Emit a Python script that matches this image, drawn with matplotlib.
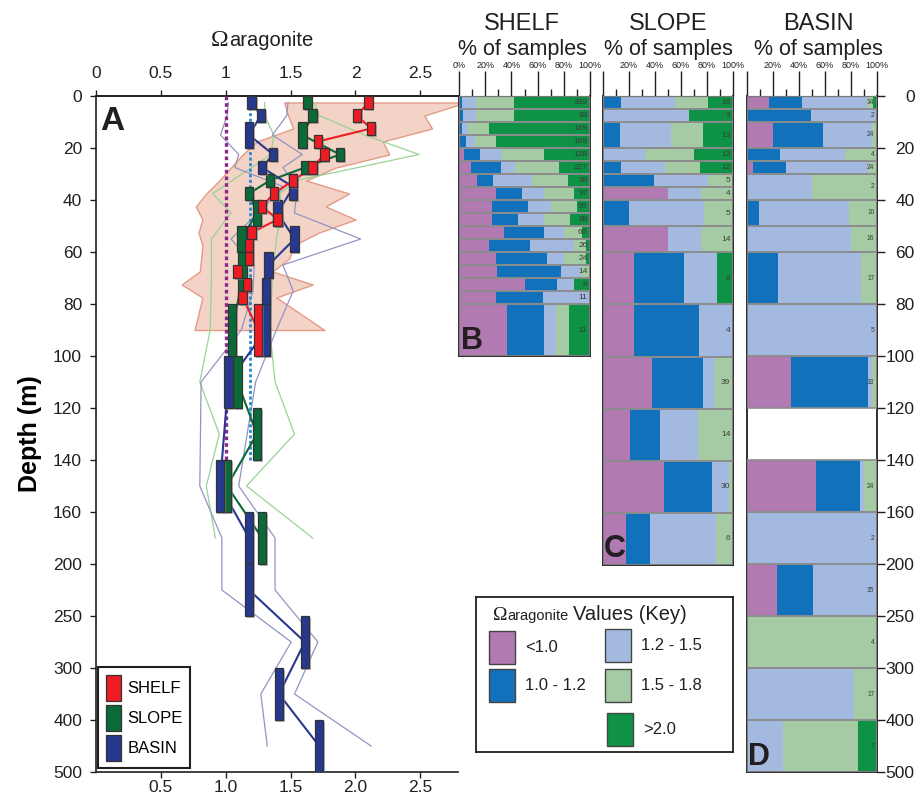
import numpy as np
import matplotlib
matplotlib.use("Agg")
import matplotlib.pyplot as plt
import matplotlib.patheffects as pe
from matplotlib.patches import Patch, Rectangle

plt.rcParams["font.family"] = ["Liberation Sans", "DejaVu Sans"]

W, H = 915, 797

# ---------------------------------------------------------------------------
# Data
# ---------------------------------------------------------------------------
DEPTH_TICKS = [0, 20, 40, 60, 80, 100, 120, 140, 160, 200, 250, 300, 400, 500]

# Panel A: mean Omega per depth bin, with the spread envelopes
SHELF_TOP = [0, 5, 10, 15, 20, 25, 30, 35, 40, 45, 50, 55, 60, 65, 70, 75, 80]
SHELF_BOT = [5, 10, 15, 20, 25, 30, 35, 40, 45, 50, 55, 60, 65, 70, 75, 80, 100]
SHELF_OMEGA = [2.10, 2.01, 2.12, 1.71, 1.76, 1.67, 1.52, 1.37, 1.28, 1.40,
               1.20, 1.18, 1.18, 1.09, 1.165, 1.13, 1.25]
SHELF_MIN = [1.45, 1.48, 1.52, 1.24, 1.13, 1.04, 0.95, 0.85, 0.77, 0.82,
             0.79, 0.82, 0.81, 0.80, 0.66, 0.82, 0.76]
SHELF_MAX = [2.85, 2.53, 2.59, 2.21, 2.26, 1.85, 1.62, 1.95, 1.77, 2.00,
             1.72, 1.52, 1.49, 1.36, 1.67, 1.39, 1.76]

SLOPE_TOP = [0, 5, 10, 20, 25, 30, 35, 40, 50, 60, 80, 100, 120, 140, 160]
SLOPE_BOT = [5, 10, 20, 25, 30, 35, 40, 50, 60, 80, 100, 120, 140, 160, 200]
SLOPE_OMEGA = [1.63, 1.67, 1.59, 1.88, 1.61, 1.34, 1.18, 1.24, 1.12, 1.13,
               1.05, 1.09, 1.24, 1.01, 1.28]
SLOPE_MIN = [1.30, 1.30, 1.37, 1.35, 1.20, 1.05, 0.90, 1.04, 0.89, 0.89,
             0.88, 0.80, 0.95, 0.85, 0.92]
SLOPE_MAX = [1.68, 1.72, 2.07, 2.49, 2.02, 1.54, 1.42, 1.43, 1.39, 1.36,
             1.34, 1.38, 1.53, 1.16, 1.67]

BASIN_TOP = [0, 5, 10, 20, 25, 30, 40, 50, 60, 70, 80, 100, 140, 160, 200, 250, 300, 400]
BASIN_BOT = [5, 10, 20, 25, 30, 40, 50, 60, 70, 80, 100, 120, 160, 200, 250, 300, 400, 500]
BASIN_OMEGA = [1.20, 1.27, 1.18, 1.365, 1.28, 1.52, 1.40, 1.53, 1.33, 1.31,
               1.31, 1.02, 0.955, 1.18, 1.18, 1.61, 1.41, 1.72]
BASIN_MIN = [1.02, 1.01, 0.96, 1.10, 1.07, 1.45, 1.25, 1.04, 1.22, 1.21,
             1.12, 0.81, 0.80, 0.97, 0.97, 1.505, 1.27, 1.32]
BASIN_MAX = [1.48, 1.47, 1.36, 1.59, 1.44, 1.55, 1.53, 2.04, 1.44, 1.52,
             1.39, 1.23, 1.10, 1.38, 1.38, 1.71, 1.53, 2.12]

OMEGA_SAT = 1.0
OMEGA_REF = 1.19
REF_DEPTH = [0, 140]

# Panels B-D: % of samples in each Omega class
CAT_LABELS = ["<1.0", "1.0 - 1.2", "1.2 - 1.5", "1.5 - 1.8", ">2.0"]
CAT_COLORS = ["#b17ab3", "#1172bb", "#a4b9e0", "#a5cba4", "#0e9346"]

SHELF_N = [339, 93, 169, 169, 128, 227, 98, 97, 95, 88, 60, 26, 24, 14, 8, 11, 11]
SHELF_LT10 = [0, 0, 0, 0, 4, 9, 14, 28, 25, 25, 34, 23, 28, 29, 50, 28, 37]
SHELF_10_12 = [2, 3, 2, 5, 12, 23, 12, 20, 28, 20, 31, 31, 39, 49, 25, 36, 28]
SHELF_12_15 = [11, 10, 5, 7, 17, 11, 30, 17, 17, 20, 15, 34, 13, 14, 13, 36, 9]
SHELF_15_18 = [29, 29, 16, 16, 32, 33, 27, 23, 20, 20, 14, 9, 17, 8, 0, 0, 10]
SHELF_GT20 = [58, 58, 77, 72, 35, 24, 17, 12, 10, 15, 6, 3, 3, 0, 12, 0, 16]

SLOPE_N = [16, 3, 13, 13, 12, 5, 4, 5, 14, 8, 4, 39, 14, 30, 6]
SLOPE_LT10 = [0, 0, 0, 0, 0, 0, 50, 0, 50, 24, 24, 38, 21, 47, 17.4]
SLOPE_10_12 = [13.6, 0, 13, 0, 13.6, 39, 0, 20, 0, 38.5, 50, 39, 23, 37, 18.5]
SLOPE_12_15 = [42, 66, 39, 32, 34, 41.5, 25, 58, 25, 25.5, 26, 9, 29, 13, 51]
SLOPE_15_18 = [25, 0, 25, 38, 27, 19.5, 25, 22, 25, 0, 0, 14, 27, 3, 13.1]
SLOPE_GT20 = [19.4, 34, 23, 30, 25.4, 0, 0, 0, 0, 12, 0, 0, 0, 0, 0]

BASIN_D_TOP = [0, 5, 10, 20, 25, 30, 40, 50, 60, 80, 100, 140, 160, 200, 250, 300, 400]
BASIN_D_BOT = [5, 10, 20, 25, 30, 40, 50, 60, 80, 100, 120, 160, 200, 250, 300, 400, 500]
BASIN_N = [34, 2, 24, 4, 24, 2, 10, 16, 17, 5, 33, 24, 2, 35, 4, 17, 7]
BASIN_LT10 = [16.8, 0, 20, 0, 4.4, 0, 0, 0, 0, 0, 33.8, 53, 0, 23, 0, 0, 0]
BASIN_10_12 = [25.5, 49, 38.5, 25, 25.6, 0, 9, 0, 23.7, 0, 59.5, 34, 0, 28, 0, 0, 0]
BASIN_12_15 = [50, 51, 37.5, 50.5, 63, 50, 69.6, 80, 64.3, 100, 3, 3, 100, 49, 0, 82, 27.6]
BASIN_15_18 = [4.7, 0, 4, 24.5, 7, 50, 21.4, 20, 12, 0, 3.7, 10, 0, 0, 100, 18, 58]
BASIN_GT20 = [3, 0, 0, 0, 0, 0, 0, 0, 0, 0, 0, 0, 0, 0, 0, 0, 14.4]

# ---------------------------------------------------------------------------
# Style
# ---------------------------------------------------------------------------
INK = "#231f20"
SHELF_C = "#ed1c24"
SLOPE_C = "#0b6a37"
BASIN_C = "#27388f"
SHADE_FACE = "#f3d3c6"
SHADE_EDGE = "#e49a85"
SLOPE_LIGHT = "#98d493"
BASIN_LIGHT = "#9294c2"
ROW_EDGE = "#8c8c8c"
BOX_W = 0.065


def px(x0, y0, x1, y1):
    """Figure-pixel box -> axes rect."""
    return [x0 / W, 1 - y1 / H, (x1 - x0) / W, (y1 - y0) / H]


_IDX = np.arange(len(DEPTH_TICKS), dtype=float)


def depth_fwd(d):
    d = np.asarray(d, dtype=float)
    out = np.interp(d, DEPTH_TICKS, _IDX)
    out = np.where(d > 500, _IDX[-1] + (d - 500) / 100.0, out)
    return np.where(d < 0, d / 20.0, out)


def depth_inv(p):
    p = np.asarray(p, dtype=float)
    out = np.interp(p, _IDX, DEPTH_TICKS)
    out = np.where(p > _IDX[-1], 500 + (p - _IDX[-1]) * 100.0, out)
    return np.where(p < 0, p * 20.0, out)


def depth_axis(ax, bottom):
    ax.set_yscale("function", functions=(depth_fwd, depth_inv))
    ax.set_ylim(bottom, 0)


fig = plt.figure(figsize=(W / 100, H / 100), dpi=100)

# ---------------------------------------------------------------------------
# Panel A
# ---------------------------------------------------------------------------
ax = fig.add_axes(px(96, 96, 458, 772))
depth_axis(ax, 500)
ax.set_xlim(0, 2.79)

mid = lambda t, b: (np.array(t) + np.array(b)) / 2.0
shelf_mid = mid(SHELF_TOP, SHELF_BOT)
slope_mid = mid(SLOPE_TOP, SLOPE_BOT)
basin_mid = mid(BASIN_TOP, BASIN_BOT)

ax.fill_betweenx(shelf_mid, SHELF_MIN, SHELF_MAX, facecolor=SHADE_FACE,
                 edgecolor=SHADE_EDGE, linewidth=1.0, zorder=1)
for arr in (SLOPE_MIN, SLOPE_MAX):
    ax.plot(arr, slope_mid, color=SLOPE_LIGHT, lw=0.9, zorder=2)
for arr in (BASIN_MIN, BASIN_MAX):
    ax.plot(arr, basin_mid, color=BASIN_LIGHT, lw=0.9, zorder=2)

ax.plot([OMEGA_SAT] * 2, REF_DEPTH, color="#8b2a8b", lw=2.4,
        ls=(0, (1.1, 0.9)), zorder=3)
ax.plot([OMEGA_REF] * 2, REF_DEPTH, color="#2a8ad6", lw=2.0,
        ls=(0, (1.1, 0.9)), zorder=3)

shadow = [pe.SimplePatchShadow(offset=(1.2, -1.2), shadow_rgbFace="#888888", alpha=0.6),
          pe.Normal()]
series = [
    (SLOPE_OMEGA, SLOPE_TOP, SLOPE_BOT, slope_mid, SLOPE_C, 5),
    (BASIN_OMEGA, BASIN_TOP, BASIN_BOT, basin_mid, BASIN_C, 6),
    (SHELF_OMEGA, SHELF_TOP, SHELF_BOT, shelf_mid, SHELF_C, 7),
]
for om, top, bot, m, col, z in series:
    ax.plot(om, m, color=col, lw=1.5, zorder=4)
    bars = ax.bar(om, np.array(bot) - np.array(top), bottom=top, width=BOX_W,
                  color=col, edgecolor="#333333", linewidth=0.9, zorder=z)
    for b in bars:
        b.set_path_effects(shadow)

ax.spines["right"].set_visible(False)
for side in ("left", "top", "bottom"):
    ax.spines[side].set_color(INK)
    ax.spines[side].set_linewidth(1.2)

ax.set_yticks(DEPTH_TICKS)
ax.set_yticklabels([str(d) for d in DEPTH_TICKS])
ax.yaxis.set_minor_locator(matplotlib.ticker.NullLocator())
ax.tick_params(axis="y", direction="out", length=4, width=1, colors=INK,
               labelsize=12.5, pad=6)
ax.set_xticks([0.5, 1.0, 1.5, 2.0, 2.5])
ax.set_xticklabels(["0.5", "1.0", "1.5", "2.0", "2.5"])
ax.tick_params(axis="x", direction="out", length=4, width=1, colors=INK,
               labelsize=12.5, pad=2)

sec = ax.secondary_xaxis("top")
sec.set_xticks([0, 0.5, 1.0, 1.5, 2.0, 2.5])
sec.set_xticklabels(["0", "0.5", "1", "1.5", "2", "2.5"])
sec.tick_params(direction="out", length=4, width=1, colors=INK, labelsize=12.5, pad=7)
sec.spines["top"].set_color(INK)
sec.spines["top"].set_linewidth(1.2)

ax.set_ylabel("Depth (m)", fontsize=18, fontweight="bold", labelpad=8)

handles = [Patch(facecolor=c, edgecolor="#333333", linewidth=0.9)
           for c in (SHELF_C, SLOPE_C, BASIN_C)]
leg = ax.legend(handles, ["SHELF", "SLOPE", "BASIN"], loc="lower left",
                bbox_to_anchor=(98 / W, 1 - 768 / H), bbox_transform=fig.transFigure,
                fontsize=12, handlelength=0.9, handleheight=2.0, labelspacing=0.25,
                borderpad=0.45, handletextpad=0.4, fancybox=False, framealpha=1,
                edgecolor=INK, borderaxespad=0)
leg.get_frame().set_linewidth(1.5)
leg.set_zorder(10)

fig.text(211 / W, 1 - 46 / H, "Ω", fontsize=17, family=["Liberation Serif"],
         color=INK, ha="left", va="baseline")
fig.text(229 / W, 1 - 46 / H, "aragonite", fontsize=14.5, color=INK,
         ha="left", va="baseline")
fig.text(100 / W, 1 - 121 / H, "A", fontsize=24, fontweight="bold", color=INK,
         ha="left", va="center")

# ---------------------------------------------------------------------------
# Panels B-D
# ---------------------------------------------------------------------------


def pct_panel(rect, bottom, tops, bots, cats, counts, letter, letter_xy,
              title, title_x, num_size, show_zero):
    pax = fig.add_axes(rect)
    depth_axis(pax, bottom)
    pax.set_xlim(0, 100)
    tops = np.array(tops, dtype=float)
    hts = np.array(bots, dtype=float) - tops
    left = np.zeros(len(tops))
    for vals, col in zip(cats, CAT_COLORS):
        vals = np.array(vals, dtype=float)
        pax.barh(tops, vals, left=left, height=hts, align="edge", color=col,
                 linewidth=0, zorder=2)
        left += vals
    pax.barh(tops, 100, height=hts, align="edge", fill=False,
             edgecolor=ROW_EDGE, linewidth=1.2, zorder=3)
    for t, h, n in zip(tops, hts, counts):
        pax.text(98, t + h / 2, str(n), ha="right", va="center",
                 fontsize=num_size, color="#3a3a3a", zorder=4)

    pax.xaxis.tick_top()
    pax.set_xticks(np.arange(0, 101, 20))
    pax.set_xticklabels([f"{v}%" if (v > 0 or show_zero) else ""
                         for v in range(0, 101, 20)])
    pax.set_xticks(np.arange(10, 100, 20), minor=True)
    pax.tick_params(axis="x", which="major", direction="out", length=18,
                    width=1, colors=INK, labelsize=6.5, pad=0.5)
    pax.tick_params(axis="x", which="minor", direction="out", length=5,
                    width=1, colors=INK)
    pax.set_yticks([])
    pax.yaxis.set_minor_locator(matplotlib.ticker.NullLocator())
    for s in pax.spines.values():
        s.set_color(INK)
        s.set_linewidth(1.3)
    pax.spines["top"].set_linewidth(0.8)

    fig.text(letter_xy[0] / W, 1 - letter_xy[1] / H, letter, fontsize=22,
             fontweight="bold", color=INK, ha="left", va="center", zorder=5)
    fig.text(title_x / W, 1 - 24 / H, title, fontsize=17, color=INK,
             ha="center", va="center")
    fig.text(title_x / W, 1 - 49 / H, "% of samples", fontsize=15.5, color=INK,
             ha="center", va="center")
    return pax


pct_panel(px(459, 96, 590, 356), 100, SHELF_TOP, SHELF_BOT,
          [SHELF_LT10, SHELF_10_12, SHELF_12_15, SHELF_15_18, SHELF_GT20],
          SHELF_N, "B", (461, 341), "SHELF", 522, 6, True)
pct_panel(px(603, 96, 733, 565), 200, SLOPE_TOP, SLOPE_BOT,
          [SLOPE_LT10, SLOPE_10_12, SLOPE_12_15, SLOPE_15_18, SLOPE_GT20],
          SLOPE_N, "C", (604, 549), "SLOPE", 668, 6, False)
dax = pct_panel(px(747, 96, 877, 772), 500, BASIN_D_TOP, BASIN_D_BOT,
                [BASIN_LT10, BASIN_10_12, BASIN_12_15, BASIN_15_18, BASIN_GT20],
                BASIN_N, "D", (748, 757), "BASIN", 818, 4.8, False)
dax.yaxis.tick_right()
dax.set_yticks(DEPTH_TICKS)
dax.set_yticklabels([str(d) for d in DEPTH_TICKS])
dax.tick_params(axis="y", direction="out", length=6, width=1, colors=INK,
                labelsize=12.5, pad=21)
for lab in dax.get_yticklabels():
    lab.set_horizontalalignment("right")

# ---------------------------------------------------------------------------
# Key
# ---------------------------------------------------------------------------
kx0, ky0, kx1, ky1 = 476, 597, 733, 752
kax = fig.add_axes(px(kx0, ky0, kx1, ky1))
kax.set_xlim(0, kx1 - kx0)
kax.set_ylim(ky1 - ky0, 0)
kax.set_xticks([])
kax.set_yticks([])
for s in kax.spines.values():
    s.set_color(INK)
    s.set_linewidth(1.3)

swatches = [(13, 34), (13, 72), (129, 32), (129, 72), (131, 116)]
for (sx, sy), col, lab in zip(swatches, CAT_COLORS, CAT_LABELS):
    kax.add_patch(Rectangle((sx, sy), 26, 33, facecolor=col, edgecolor="#444444", lw=1.0))
    kax.text(sx + 36, sy + 17, lab, fontsize=12, color=INK, ha="left", va="center")

kax.text(17, 23, "Ω", fontsize=14, family=["Liberation Serif"], color=INK,
         ha="left", va="baseline")
kax.text(31, 23, "aragonite", fontsize=10.5, color=INK, ha="left", va="baseline")
kax.text(97, 23, "Values (Key)", fontsize=14.5, color=INK, ha="left", va="baseline")

fig.savefig("out.png", dpi=100)
